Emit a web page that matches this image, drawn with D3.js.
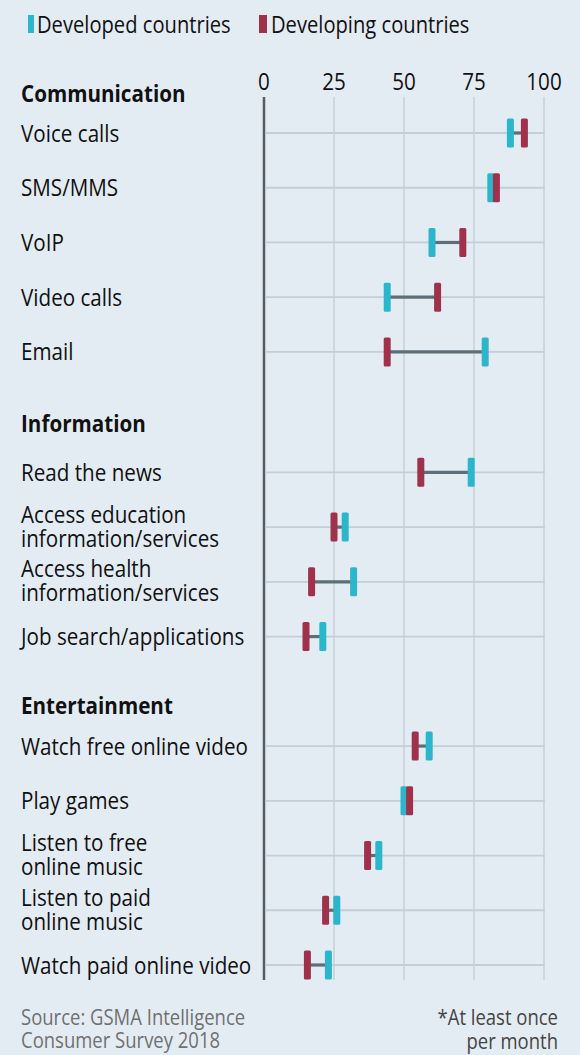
<!DOCTYPE html>
<html>
<head>
<meta charset="utf-8">
<script src="https://cdn.jsdelivr.net/npm/d3@7"></script>
<style>
  html, body { margin: 0; padding: 0; background: #e4ecf3; }
  svg { display: block; }
  text { font-family: "Open Sans", sans-serif; fill: #111; }
</style>
</head>
<body>
<script>
// data (% using service at least once a month)
var sections = ["Communication", "Information", "Entertainment"];
var activities = [
    ["Voice calls", "SMS/MMS", "VoIP", "Video calls", "Email"],
    ["Read the news", "Access education|information/services", "Access health|information/services", "Job search/applications"],
    ["Watch free online video", "Play games", "Listen to free|online music", "Listen to paid|online music", "Watch paid online video"]
];
var developed = [
    [88, 81, 60, 44, 79],
    [74, 29, 32, 21],
    [59, 50, 41, 26, 23]
];
var developing = [
    [93, 83, 71, 62, 44],
    [56, 25, 17, 15],
    [54, 52, 37, 22, 15.5]
];
var xTicks = [0, 25, 50, 75, 100];
var legendNames = ["Developed countries", "Developing countries"];
var sourceLines = ["Source: GSMA Intelligence", "Consumer Survey 2018"];
var noteLines = ["*At least once", "per month"];

var width = 580, height = 1055;
var cyan = "#2bb6cc", maroon = "#a0314b";

// layout of row slots: where each section starts, where its heading sits
var sectionStart = [0, 6.2, 11.2];
var headingSlot = [-0.72, 5.3, 10.46];

var svg = d3.select("body").append("svg")
    .attr("width", width)
    .attr("height", height);

svg.append("rect")
    .attr("width", width)
    .attr("height", height)
    .attr("fill", "#e4ecf3");

var x = d3.scaleLinear().domain([0, 100]).range([264, 544]);
var y = d3.scaleLinear().domain([0, 15.2]).range([133, 965]);

// text is drawn a bit condensed, like the original
function addText(g, txt, px, py, size, anchor, sx) {
    return g.append("text")
        .attr("transform", "translate(" + px + "," + py + ") scale(" + (sx || 0.86) + ",1)")
        .attr("text-anchor", anchor || "start")
        .style("font-size", size + "px")
        .text(txt);
}

// flatten rows
var rows = [];
for (var s = 0; s < sections.length; s = s + 1) {
    for (var i = 0; i < activities[s].length; i = i + 1) {
        rows.push({
            name: activities[s][i],
            dev: developed[s][i],
            ing: developing[s][i],
            slot: sectionStart[s] + i
        });
    }
}

// legend
var legend = svg.append("g");
legend.append("rect").attr("x", 28).attr("y", 15).attr("width", 6).attr("height", 18).attr("fill", cyan);
addText(legend, legendNames[0], 37, 33, 24, "start", 0.84);
legend.append("rect").attr("x", 259).attr("y", 15).attr("width", 8).attr("height", 18).attr("fill", maroon);
addText(legend, legendNames[1], 271, 33, 24, "start", 0.84);

// vertical gridlines
var gridTop = 97, gridBottom = 980;
svg.append("g").selectAll("line")
    .data(xTicks)
    .enter().append("line")
    .attr("x1", function(d) { return x(d); })
    .attr("x2", function(d) { return x(d); })
    .attr("y1", gridTop)
    .attr("y2", gridBottom)
    .style("stroke", function(d) { return d === 0 ? "#555c62" : "#c6d1da"; })
    .style("stroke-width", function(d) { return d === 0 ? 2.5 : 1.5; });

// tick labels
var tickG = svg.append("g");
xTicks.forEach(function(t) {
    addText(tickG, String(t), x(t), 90, 24, "middle");
});

// horizontal row lines
svg.append("g").selectAll("line")
    .data(rows)
    .enter().append("line")
    .attr("x1", x(0) + 1)
    .attr("x2", x(100) + 1)
    .attr("y1", function(d) { return y(d.slot); })
    .attr("y2", function(d) { return y(d.slot); })
    .style("stroke", "#c3ced7")
    .style("stroke-width", 1.8);

// section headings
var headG = svg.append("g");
sections.forEach(function(name, k) {
    addText(headG, name, 21, y(headingSlot[k]) + 8.5, 24).style("font-weight", 700);
});

// row labels
var labelG = svg.append("g");
rows.forEach(function(d) {
    var lines = d.name.split("|");
    if (lines.length === 1) {
        addText(labelG, lines[0], 21, y(d.slot) + 8.5, 24);
    } else {
        addText(labelG, lines[0], 21, y(d.slot) - 4.5, 24);
        addText(labelG, lines[1], 21, y(d.slot) + 19.5, 24);
    }
});

// connectors
svg.append("g").selectAll("line")
    .data(rows)
    .enter().append("line")
    .attr("x1", function(d) { return x(d.dev); })
    .attr("x2", function(d) { return x(d.ing); })
    .attr("y1", function(d) { return y(d.slot); })
    .attr("y2", function(d) { return y(d.slot); })
    .style("stroke", "#5e6e78")
    .style("stroke-width", 3.2);

// markers: developed first, developing on top
var markW = 7, markH = 29;
[["dev", cyan], ["ing", maroon]].forEach(function(m) {
    svg.append("g").selectAll("rect")
        .data(rows)
        .enter().append("rect")
        .attr("x", function(d) { return x(d[m[0]]) - markW / 2; })
        .attr("y", function(d) { return y(d.slot) - markH / 2; })
        .attr("width", markW)
        .attr("height", markH)
        .attr("rx", 1.5)
        .attr("fill", m[1]);
});

// footer
var foot = svg.append("g");
addText(foot, sourceLines[0], 21, 1025, 21.5).style("fill", "#707070");
addText(foot, sourceLines[1], 21, 1048, 21.5).style("fill", "#707070");
addText(foot, noteLines[0], 558, 1025, 21.5, "end").style("fill", "#444");
addText(foot, noteLines[1], 558, 1049, 21.5, "end").style("fill", "#444");
</script>
</body>
</html>
